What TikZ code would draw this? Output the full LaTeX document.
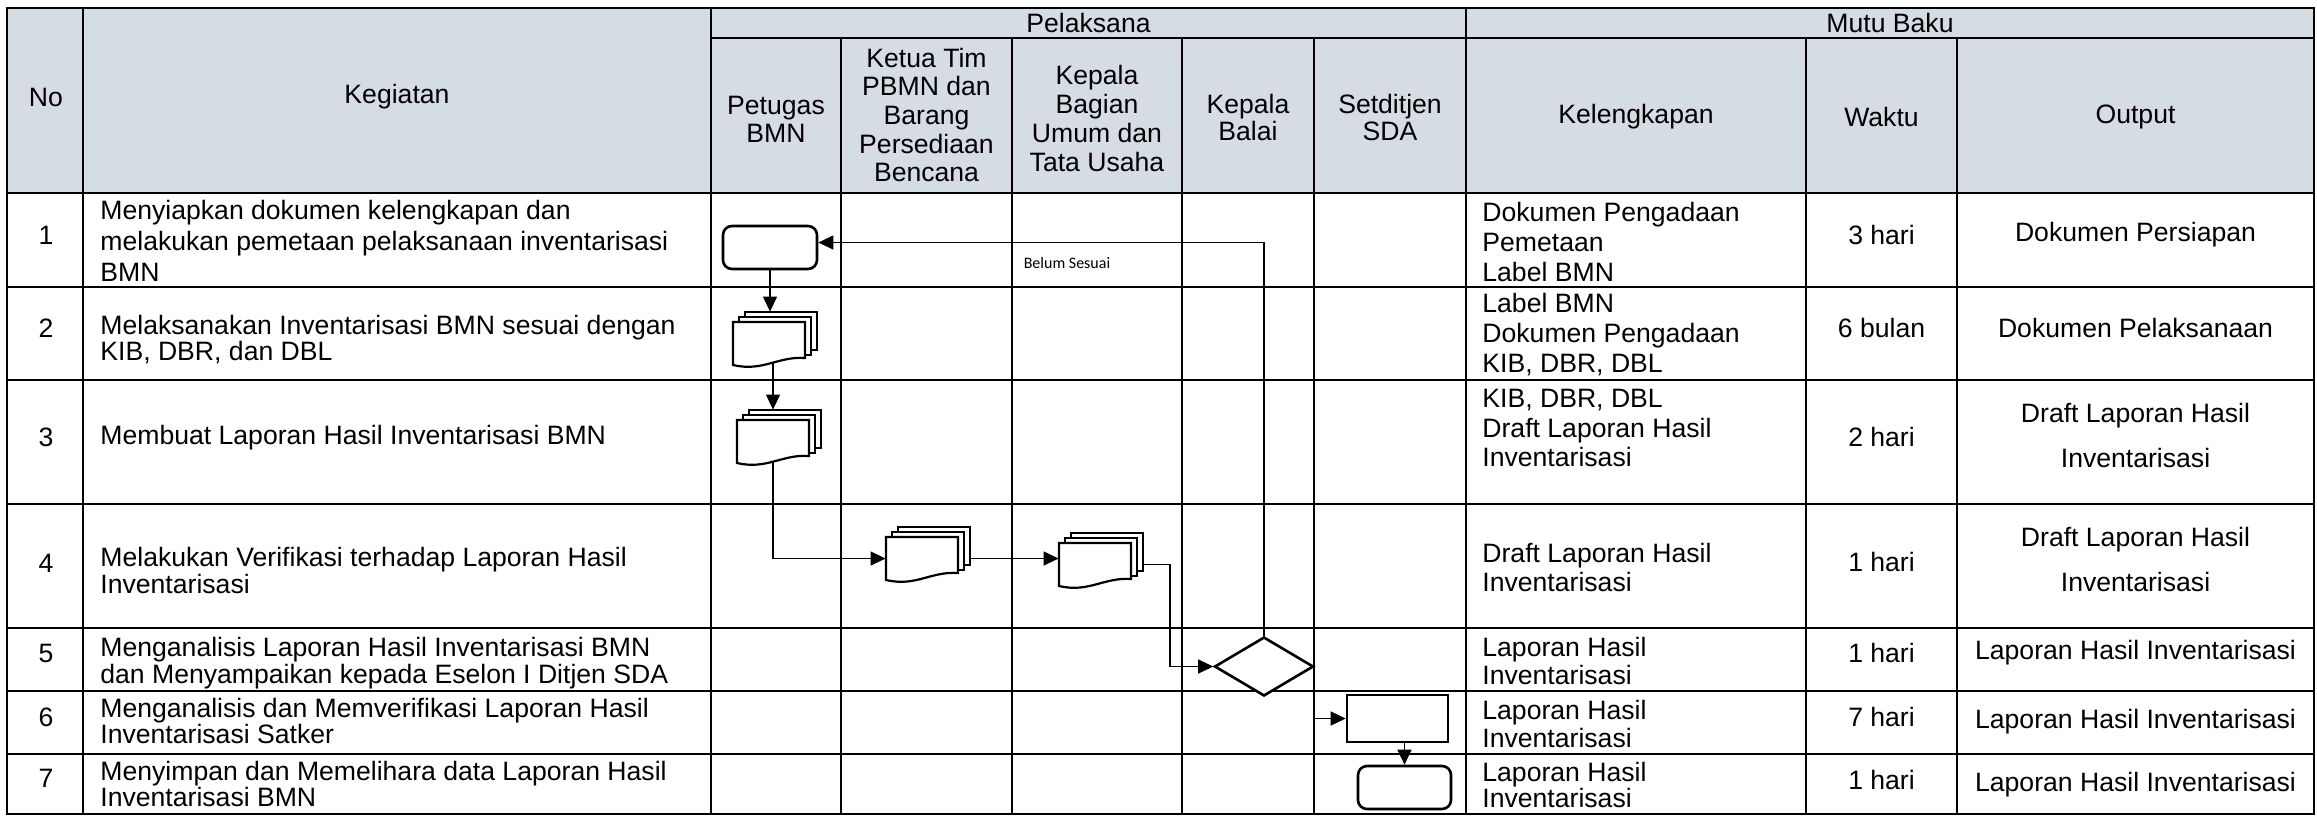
\documentclass[tikz,border=0pt]{standalone}
\usepackage{fontspec}
\setmainfont{Liberation Sans}
\newfontfamily\lblfont{Carlito}
\usetikzlibrary{shapes.geometric,arrows.meta}
\definecolor{hdr}{RGB}{214,220,228}
\newcommand\fsz[1]{\fontsize{13.3}{#1}\selectfont\lineskiplimit=-50pt\relax}
\newcommand\mdoc[2]{%
 \begin{scope}[shift={(#1,#2)}]
  \draw[docline,fill=white] (12,-10) rectangle (84,28);
  \draw[docline,fill=white] (6,-5) rectangle (78,33);
  \draw[docline,fill=white] (0,0) -- (72,0) -- (72,36) .. controls (45,34) and (30,50) .. (0,43) -- cycle;
 \end{scope}}
\begin{document}
\begin{tikzpicture}[x=0.5pt,y=-0.5pt,
  grid/.style={line width=1.25pt},
  docline/.style={line width=1.1pt, line join=miter},
  shp/.style={draw, line width=1.3pt, fill=white, inner sep=0},
  rrect/.style={shp, rounded corners=4.5pt},
  docnode/.style={inner sep=0, minimum width=36pt, minimum height=21.5pt},
  conn/.style={line width=0.6pt, -{Triangle[length=7.5pt,width=7pt]}},
  txt/.style={inner sep=0, font=\fsz{15}},
  hd/.style={txt, align=center},
  lft/.style={txt, anchor=west, align=left},
  lbl/.style={inner sep=0, font=\lblfont\fontsize{8}{9}\selectfont}]
\useasboundingbox (0,0) rectangle (2317,816);
% header fill
\fill[hdr] (7,8) rectangle (2314,193);
% grid
\draw[grid] (7,8) rectangle (2314,814);
\draw[grid] (711,38) -- (2314,38);
\foreach \y in {193,287,380,504,628,691,754} \draw[grid] (7,\y) -- (2314,\y);
\foreach \x in {83,711,1466} \draw[grid] (\x,8) -- (\x,814);
\foreach \x in {841,1012,1182,1314,1806,1957} \draw[grid] (\x,38) -- (\x,814);
% flow nodes
\node[rrect, minimum width=47pt, minimum height=21.5pt] (A) at (770,247.5) {};
\node[docnode] (B) at (769,343.5) {};
\node[docnode] (C) at (773,441.5) {};
\node[docnode] (D) at (922,558.5) {};
\node[docnode] (E) at (1095,564.5) {};
\node[shp, diamond, minimum width=49.5pt, minimum height=29.5pt] (F) at (1264,666.5) {};
\node[shp, minimum width=50.5pt, minimum height=23.5pt] (G) at (1397.5,718.5) {};
\node[rrect, minimum width=46.5pt, minimum height=21.5pt] (H) at (1404.5,787.5) {};
\coordinate (e1) at (1170,0);
% connectors
\draw[conn] (A.south) -- ([yshift=5pt]A.south |- B.north);
\draw[conn] (C.center |- B.center) -- ([yshift=5pt]C.north);
\draw[conn] (C.center) |- (D.west);
\draw[conn] (D.center) -- (D.center -| E.west);
\draw[conn] (E.center) -- (E.center -| e1) |- (F.west);
\draw[conn] (F.north) |- ([yshift=2.5pt]A.east);
\draw[conn] (F.east) |- (G.west);
\draw[conn] (H.north |- G.south) -- (H.north);
\node[lbl] (bs) at (1067,263) {Belum Sesuai};
% document stacks
\mdoc{733}{322}
\mdoc{737}{420}
\mdoc{886}{537}
\mdoc{1059}{543}
% header texts
\node[hd] (hPel) at (1088.5,23) {Pelaksana};
\node[hd] (hMutu) at (1890,23) {Mutu Baku};
\node[hd] (hNo) at (46,97) {No};
\node[hd] (hKeg) at (397,97) {Kegiatan};
\node[hd, font=\fsz{14}] (hPet) at (776,119) {Petugas\\BMN};
\node[hd, font=\fsz{14.3}] (hKet) at (926.5,115) {Ketua Tim\\PBMN dan\\Barang\\Persediaan\\Bencana};
\node[hd, font=\fsz{14.5}] (hKab) at (1097,118) {Kepala\\Bagian\\Umum dan\\Tata Usaha};
\node[hd, font=\fsz{13.5}] (hKba) at (1248,117) {Kepala\\Balai};
\node[hd, font=\fsz{13.5}] (hSet) at (1390,117) {Setditjen\\SDA};
\node[hd] (hKel) at (1636,117) {Kelengkapan};
\node[hd] (hWak) at (1881.5,117) {Waktu};
\node[hd] (hOut) at (2135.5,117) {Output};
% numbers
\node[hd] (n1) at (46,235) {1};
\node[hd] (n2) at (46,328) {2};
\node[hd] (n3) at (46,437) {3};
\node[hd] (n4) at (46,563) {4};
\node[hd] (n5) at (46,653) {5};
\node[hd] (n6) at (46,717) {6};
\node[hd] (n7) at (46,778) {7};
% kegiatan
\node[lft, font=\fsz{15.5}] (k1) at (100,241) {Menyiapkan dokumen kelengkapan dan\\melakukan pemetaan pelaksanaan inventarisasi\\BMN};
\node[lft, font=\fsz{13}] (k2) at (100,340) {Melaksanakan Inventarisasi BMN sesuai dengan\\KIB, DBR, dan DBL};
\node[lft] (k3) at (100,438) {Membuat Laporan Hasil Inventarisasi BMN};
\node[lft, font=\fsz{13.5}] (k4) at (100,570) {Melakukan Verifikasi terhadap Laporan Hasil\\Inventarisasi};
\node[lft, font=\fsz{13.5}] (k5) at (100,663.5) {Menganalisis Laporan Hasil Inventarisasi BMN\\dan Menyampaikan kepada Eselon I Ditjen SDA};
\node[lft, font=\fsz{13}] (k6) at (100,721) {Menganalisis dan Memverifikasi Laporan Hasil\\Inventarisasi Satker};
\node[lft, font=\fsz{13}] (k7) at (100,784) {Menyimpan dan Memelihara data Laporan Hasil\\Inventarisasi BMN};
% kelengkapan
\node[lft, font=\fsz{15}] (l1) at (1482,242) {Dokumen Pengadaan\\Pemetaan\\Label BMN};
\node[lft, font=\fsz{15}] (l2) at (1482,335) {Label BMN\\Dokumen Pengadaan\\KIB, DBR, DBL};
\node[lft, font=\fsz{14.75}] (l3) at (1482,428) {KIB, DBR, DBL\\Draft Laporan Hasil\\Inventarisasi};
\node[lft, font=\fsz{14.5}] (l4) at (1482,567.5) {Draft Laporan Hasil\\Inventarisasi};
\node[lft, font=\fsz{14}] (l5) at (1482,661) {Laporan Hasil\\Inventarisasi};
\node[lft, font=\fsz{14}] (l6) at (1482,724) {Laporan Hasil\\Inventarisasi};
\node[lft, font=\fsz{13}] (l7) at (1482,785) {Laporan Hasil\\Inventarisasi};
% waktu
\node[hd] (w1) at (1881.5,235) {3 hari};
\node[hd] (w2) at (1881.5,328) {6 bulan};
\node[hd] (w3) at (1881.5,437) {2 hari};
\node[hd] (w4) at (1881.5,562) {1 hari};
\node[hd] (w5) at (1881.5,653) {1 hari};
\node[hd] (w6) at (1881.5,717) {7 hari};
\node[hd] (w7) at (1881.5,780) {1 hari};
% output
\node[hd] (o1) at (2135.5,235) {Dokumen Persiapan};
\node[hd] (o2) at (2135.5,328) {Dokumen Pelaksanaan};
\node[hd, font=\fsz{22.5}] (o3) at (2135.5,435.5) {Draft Laporan Hasil\\Inventarisasi};
\node[hd, font=\fsz{22.5}] (o4) at (2135.5,559.5) {Draft Laporan Hasil\\Inventarisasi};
\node[hd] (o5) at (2135.5,653) {Laporan Hasil Inventarisasi};
\node[hd] (o6) at (2135.5,722) {Laporan Hasil Inventarisasi};
\node[hd] (o7) at (2135.5,785) {Laporan Hasil Inventarisasi};
\end{tikzpicture}
\end{document}
